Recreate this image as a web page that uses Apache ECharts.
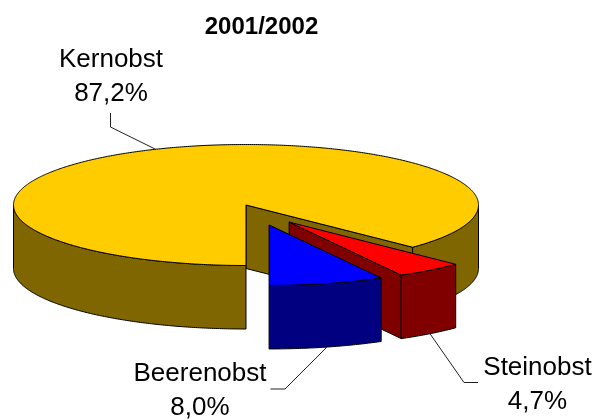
<!DOCTYPE html>
<html>
<head>
<meta charset="utf-8">
<style>
    html, body { margin: 0; padding: 0; background: #fff; }
    #chart { width: 596px; height: 420px; }
</style>
<script src="https://cdn.jsdelivr.net/npm/echarts@6/dist/echarts.min.js"></script>
</head>
<body>
<div id="chart"></div>
<script>
    // data
    let chartTitle = '2001/2002'
    let categories = ['Kernobst', 'Steinobst', 'Beerenobst']
    let shares = [87.2, 4.7, 8.0]

    // look of the slices, same order as categories
    let topColors = ['#FFCC00', '#FF0000', '#0000FF']
    let sideColors = ['#806600', '#800000', '#000080']
    let explode = [0.095, 0.245, 0.25]
    let labelCenters = [[111, 76.5], [537.5, 384.5], [200, 391]]
    let elbows = [[[110.5, 113], [110.5, 127]], [[478, 382.5], [464, 382.5]], [[270.5, 389], [285, 389]]]

    // pie geometry, the first slice starts straight down and runs clockwise
    const CX = 254.6, CY = 210.3, RX = 232.5, RY = 60.5, DEPTH = 63.5, START = 90
    const FONT = 'Liberation Sans, Arial, sans-serif'

    let total = shares.reduce((a, b) => a + b, 0)
    let rad = d => d * Math.PI / 180

    let onRim = (c, deg, drop = 0) => [c[0] + RX * Math.cos(rad(deg)), c[1] + RY * Math.sin(rad(deg)) + drop]

    let arc = (c, from, to, drop = 0) => {
        let pts = []
        let steps = Math.max(2, Math.ceil(Math.abs(to - from) * 2))
        for (let i = 0; i <= steps; i++) pts.push(onRim(c, from + (to - from) * i / steps, drop))
        return pts
    }

    let poly = (points, fill) => ({
        type: 'polygon',
        shape: { points },
        style: { fill, stroke: '#000', lineWidth: 1, lineJoin: 'round' }
    })

    // outer wall is only seen on the front half of the rim
    let outerWalls = (c, from, to, fill) => {
        let out = []
        ;[[0, 180], [360, 540]].forEach(([lo, hi]) => {
            let a = Math.max(from, lo), b = Math.min(to, hi)
            if (b - a > 0.01) out.push(poly(arc(c, a, b).concat(arc(c, b, a, DEPTH)), fill))
        })
        return out
    }

    let cutFace = (c, deg, fill) => {
        let p = onRim(c, deg)
        return poly([c, p, [p[0], p[1] + DEPTH], [c[0], c[1] + DEPTH]], fill)
    }

    let renderSlice = (params, api) => {
        let i = params.dataIndex
        let before = shares.slice(0, i).reduce((a, b) => a + b, 0)
        let from = START + before / total * 360
        let to = from + api.value(0) / total * 360
        let mid = (from + to) / 2
        let c = [CX + explode[i] * RX * Math.cos(rad(mid)), CY + explode[i] * RY * Math.sin(rad(mid))]

        let children = []
        if (Math.cos(rad(from)) < -1e-6) children.push(cutFace(c, from, sideColors[i]))
        if (Math.cos(rad(to)) > 1e-6) children.push(cutFace(c, to, sideColors[i]))
        children = children.concat(outerWalls(c, from, to, sideColors[i]))
        children.push(poly([c].concat(arc(c, from, to)), topColors[i]))

        // leader line ends on the rim at the middle of the slice
        let front = Math.sin(rad(mid)) > 0
        children.push({
            type: 'polyline',
            shape: { points: elbows[i].concat([onRim(c, mid, front ? DEPTH : 0)]) },
            style: { fill: null, stroke: '#222', lineWidth: 1 }
        })
        children.push({
            type: 'text',
            style: {
                text: categories[i] + '\n' + api.value(0).toFixed(1).replace('.', ',') + '%',
                x: labelCenters[i][0],
                y: labelCenters[i][1],
                align: 'center',
                verticalAlign: 'middle',
                fontFamily: FONT,
                fontSize: 26,
                lineHeight: 34,
                fill: '#000'
            }
        })
        return { type: 'group', children }
    }

    let chart = echarts.init(document.getElementById('chart'))
    chart.setOption({
        animation: false,
        backgroundColor: '#fff',
        title: {
            text: chartTitle,
            left: 256.5,
            top: 10,
            textAlign: 'center',
            textStyle: { fontFamily: FONT, fontSize: 24, fontWeight: 'bold', color: '#000' }
        },
        series: [{
            type: 'custom',
            coordinateSystem: 'none',
            silent: true,
            renderItem: renderSlice,
            data: shares.map(v => [v])
        }]
    })
</script>
</body>
</html>
